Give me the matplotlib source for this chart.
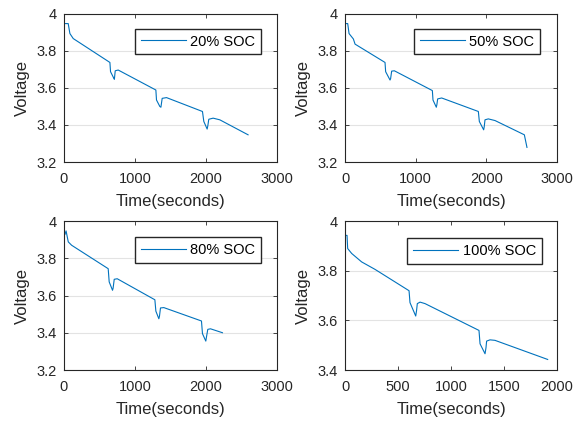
import numpy as np
import matplotlib
matplotlib.use("Agg")
import matplotlib.pyplot as plt

plt.rcParams['font.family'] = ['Liberation Sans', 'DejaVu Sans']
plt.rcParams['xtick.direction'] = 'in'
plt.rcParams['ytick.direction'] = 'in'
plt.rcParams['font.size'] = 10

line_color = "#0072bd"

# 20% SOC
t20 = [14, 60, 84, 131, 647, 656, 703, 710, 722, 764, 1294, 1303, 1350, 1365, 1383, 1444,
       1950, 1969, 2016, 2025, 2039, 2100, 2194, 2592]
v20 = [3.948, 3.948, 3.894, 3.867, 3.738, 3.688, 3.652, 3.647, 3.693, 3.697, 3.589, 3.535,
       3.500, 3.496, 3.544, 3.548, 3.473, 3.419, 3.378, 3.395, 3.431, 3.437, 3.428, 3.347]

# 50% SOC
t50 = [9, 38, 57, 118, 142, 566, 575, 637, 645, 660, 698, 1236, 1245, 1292, 1300, 1311, 1368,
       1887, 1901, 1962, 1970, 1981, 2028, 2123, 2538, 2575]
v50 = [3.948, 3.948, 3.894, 3.865, 3.837, 3.738, 3.688, 3.643, 3.650, 3.691, 3.693, 3.586,
       3.535, 3.496, 3.510, 3.541, 3.546, 3.473, 3.419, 3.374, 3.390, 3.428, 3.433, 3.424,
       3.347, 3.279]

# 80% SOC
t80 = [15, 30, 61, 108, 623, 637, 684, 692, 708, 750, 1280, 1294, 1336, 1345, 1359, 1406,
       1936, 1950, 1997, 2005, 2025, 2063, 2231]
v80 = [3.930, 3.948, 3.889, 3.871, 3.745, 3.674, 3.629, 3.640, 3.688, 3.691, 3.578, 3.517,
       3.476, 3.490, 3.534, 3.536, 3.464, 3.396, 3.356, 3.375, 3.419, 3.422, 3.401]

# 100% SOC
t100 = [6, 19, 25, 63, 157, 283, 604, 613, 667, 675, 682, 708, 755, 1264, 1274, 1321, 1330,
        1336, 1368, 1415, 1912]
v100 = [3.943, 3.943, 3.890, 3.870, 3.836, 3.806, 3.720, 3.672, 3.618, 3.640, 3.668, 3.674,
        3.668, 3.560, 3.506, 3.466, 3.490, 3.517, 3.522, 3.520, 3.443]

panels = [
    (t20, v20, "20% SOC", [0.111, 0.617, 0.370, 0.350], (0, 3000), (3.2, 4.0),
     [0, 1000, 2000, 3000], [3.2, 3.4, 3.6, 3.8, 4.0], (0.925, 0.90)),
    (t50, v50, "50% SOC", [0.599, 0.617, 0.368, 0.350], (0, 3000), (3.2, 4.0),
     [0, 1000, 2000, 3000], [3.2, 3.4, 3.6, 3.8, 4.0], (0.92, 0.90)),
    (t80, v80, "80% SOC", [0.111, 0.125, 0.370, 0.352], (0, 3000), (3.2, 4.0),
     [0, 1000, 2000, 3000], [3.2, 3.4, 3.6, 3.8, 4.0], (0.925, 0.893)),
    (t100, v100, "100% SOC", [0.599, 0.125, 0.368, 0.352], (0, 2000), (3.4, 4.0),
     [0, 500, 1000, 1500, 2000], [3.4, 3.6, 3.8, 4.0], (0.929, 0.886)),
]

fig = plt.figure(figsize=(5.76, 4.23), dpi=100)

for t, v, lab, pos, xl, yl, xt, yt, anchor in panels:
    ax = fig.add_axes(pos)
    ax.plot(t, v, color=line_color, linewidth=0.8, label=lab)
    ax.set_xlim(xl)
    ax.set_ylim(yl)
    ax.set_xticks(xt)
    ax.set_yticks(yt)
    ax.set_yticklabels(["%g" % y for y in yt])
    ax.tick_params(labelsize=10.5, length=3, width=0.6, colors="#262626",
                   top=True, right=True)
    ax.tick_params(axis="x", pad=7)
    ax.tick_params(axis="y", pad=5)
    ax.grid(axis="y", color="#e3e3e3", linewidth=0.8)
    for s in ax.spines.values():
        s.set_linewidth(0.8)
        s.set_color("#262626")
    ax.set_xlabel("Time(seconds)", fontsize=12, color="#262626", labelpad=6)
    ax.set_ylabel("Voltage", fontsize=12, color="#262626", labelpad=5)
    ax.legend(loc="upper right", bbox_to_anchor=anchor, fancybox=False, framealpha=1,
              edgecolor="#262626", fontsize=10.5, handlelength=3.1, handletextpad=0.3,
              borderpad=0.4, borderaxespad=0)

fig.savefig("out.png", dpi=100)
